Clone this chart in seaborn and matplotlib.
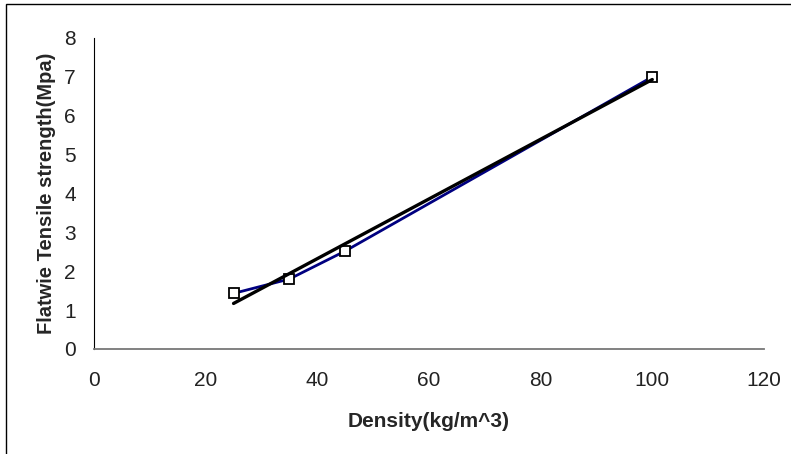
import numpy as np
import pandas as pd
import seaborn as sns
import matplotlib.pyplot as plt
from matplotlib.patches import Rectangle

density = [25, 35, 45, 100]
strength = [1.43, 1.8, 2.52, 7.0]
x_ticks = [0, 20, 40, 60, 80, 100, 120]
y_ticks = [0, 1, 2, 3, 4, 5, 6, 7, 8]

df = pd.DataFrame({'density': density, 'strength': strength})

sns.set_style('white')
plt.rcParams['font.family'] = ['Liberation Sans', 'DejaVu Sans']

fig = plt.figure(figsize=(7.91, 4.54), dpi=100)
ax = fig.add_axes([0.1188, 0.2313, 0.847, 0.685])

# data series
sns.lineplot(data=df, x='density', y='strength', color='#000080', linewidth=2,
             marker='s', markersize=7, markerfacecolor='white', markeredgecolor='black',
             markeredgewidth=1.3, ax=ax, zorder=2)

# linear trendline
slope, intercept = np.polyfit(density, strength, 1)
trend_x = np.array([min(density), max(density)])
sns.lineplot(x=trend_x, y=slope * trend_x + intercept, color='black', linewidth=2.4, ax=ax, zorder=3)

ax.set_xlim(0, 120)
ax.set_ylim(0, 8)
ax.set_xticks(x_ticks)
ax.set_yticks(y_ticks)
ax.tick_params(axis='both', direction='out', length=5, width=1, labelsize=15, colors='#222222')
ax.tick_params(axis='x', color='#555555', pad=11)
ax.tick_params(axis='y', color='#555555', pad=8)
for s in ['top', 'right']:
    ax.spines[s].set_visible(False)
ax.spines['left'].set_color('black')
ax.spines['bottom'].set_color('#777777')
ax.spines['bottom'].set_linewidth(1.3)

ax.set_xlabel('Density(kg/m^3)', fontsize=15, fontweight='bold', labelpad=16)
ax.set_ylabel('Flatwie Tensile strength(Mpa)', fontsize=14.5, fontweight='bold', labelpad=6)

fig.patches.append(Rectangle((6 / 791, -0.5), 2, 0.5 + 1 - 4 / 454, transform=fig.transFigure,
                             fill=False, edgecolor='black', linewidth=1))

fig.savefig('out.png', dpi=100)
